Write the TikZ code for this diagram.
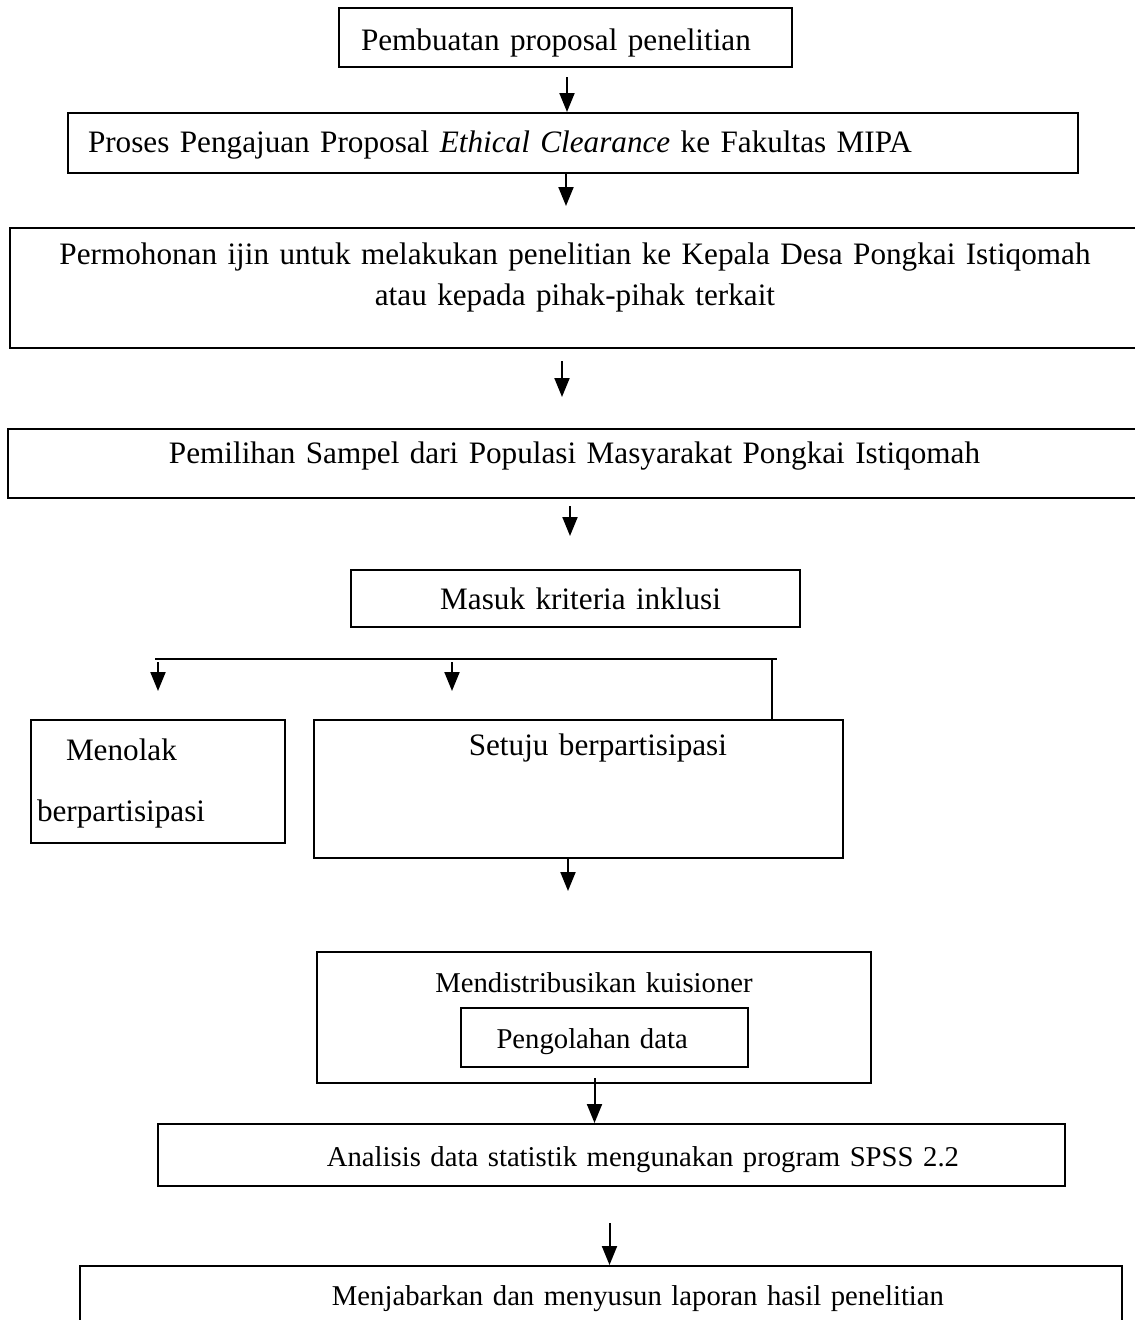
\documentclass[tikz,border=0pt]{standalone}
\usepackage{fontspec}
\setmainfont{Liberation Serif}
\usepackage{tikz}
\usetikzlibrary{arrows.meta,positioning,calc}
\newcommand{\bigtext}{\fontsize{31.2}{41}\selectfont}
\newcommand{\smalltext}{\fontsize{28.7}{38}\selectfont}
\tikzset{
    box/.style={
        rectangle, draw, line width=2pt, inner ysep=0pt,
        font=\bigtext
    },
    smallbox/.style={
        box, font=\smalltext
    },
    arrow/.style={-{Triangle[length=19pt,width=15pt]},line width=2pt},
    branch/.style={draw,line width=1.5pt}
}
\begin{document}
\begin{tikzpicture}[x=1pt,y=-1pt]
\path[use as bounding box, clip] (0,0) rectangle (1135,1320);

% Main column
\node[box, text width=409pt, inner xsep=22pt, text height=42pt, text depth=17pt, align=left]
    (proposal) at (565.5,37.5) {Pembuatan proposal penelitian};
\node[box, text width=970pt, inner xsep=20pt, text height=39pt, text depth=21pt, align=left]
    (clearance) at (573,143) {Proses Pengajuan Proposal \textit{Ethical Clearance} ke Fakultas MIPA};
\node[box, text width=1090pt, inner xsep=20pt, text height=36pt, text depth=84pt, align=center]
    (ijin) at (575,288)
    {Permohonan ijin untuk melakukan penelitian ke Kepala Desa Pongkai Istiqomah\\atau kepada pihak-pihak terkait};
\node[box, text width=1093pt, inner xsep=20pt, text height=34pt, text depth=35pt, align=center]
    (sampel) at (574.5,463.5) {Pemilihan Sampel dari Populasi Masyarakat Pongkai Istiqomah};
\node[box, text width=291pt, inner xsep=79pt, text height=39pt, text depth=18pt, align=right]
    (inklusi) at (575.5,598.5) {Masuk kriteria inklusi};

% Split
\node[box, font=\fontsize{31.2}{61}\selectfont, text width=242pt, inner xsep=6pt,
      text height=40pt, text depth=83pt, align=left]
    (menolak) at (158,781.5) {\hspace*{29pt}Menolak\\berpartisipasi};
\node[box, text width=297pt, inner xsep=116pt, text height=35pt, text depth=103pt, align=right]
    (setuju) at (578.5,789) {Setuju berpartisipasi};

% Lower part
\node[smallbox, text width=514pt, inner xsep=20pt, text height=40pt, text depth=91pt, align=center]
    (kuisioner) at (594,1017.5) {Mendistribusikan kuisioner};
\node[smallbox, text width=216pt, inner xsep=35.5pt, text height=40pt, text depth=19pt, align=left]
    (olah) at (604.5,1037.5) {Pengolahan data};
\node[smallbox, text width=695pt, inner xsep=106pt, text height=42pt, text depth=20pt, align=right]
    (analisis) at (611.5,1155) {Analisis data statistik mengunakan program SPSS 2.2};
\node[smallbox, text width=686pt, inner xsep=178pt, text height=39pt, text depth=25pt, align=right]
    (laporan) at (601,1298) {Menjabarkan dan menyusun laporan hasil penelitian};

% Branch coordinates
\coordinate (branchL) at (155,659);
\coordinate (branchR) at (777,659);
\coordinate (branchV) at (772,659);
\coordinate (tolakA)  at (158,659);
\coordinate (setujuA) at (452,659);

% Connectors
\draw[arrow, shorten <=9pt] ([xshift=1.5pt]proposal.south) -- ([xshift=1.5pt]proposal.south |- clearance.north);
\draw[arrow, shorten >=21pt] ([xshift=-7pt]clearance.south) -- ([xshift=-7pt]clearance.south |- ijin.north);
\draw[arrow, shorten <=12pt, shorten >=31pt] ([xshift=-13pt]ijin.south) -- ([xshift=-13pt]ijin.south |- sampel.north);
\draw[arrow, shorten <=7pt, shorten >=33pt] ([xshift=-4.5pt]sampel.south) -- ([xshift=-4.5pt]sampel.south |- inklusi.north);
\draw[branch] (branchL) -- (branchR);
\draw[branch] (branchV) -- (branchV |- setuju.north);
\draw[arrow, shorten <=3pt, shorten >=28pt] (tolakA) -- (tolakA |- menolak.north);
\draw[arrow, shorten <=3pt, shorten >=28pt] (setujuA) -- (setujuA |- setuju.north);
\draw[arrow, shorten >=60pt] ([xshift=-10.5pt]setuju.south) -- ([xshift=-10.5pt]setuju.south |- kuisioner.north);
\draw[arrow, shorten <=10pt] ([xshift=-10pt]olah.south) -- ([xshift=-10pt]olah.south |- analisis.north);
\draw[arrow, shorten <=36pt] ([xshift=-2pt]analisis.south) -- ([xshift=-2pt]analisis.south |- laporan.north);

\end{tikzpicture}
\end{document}
